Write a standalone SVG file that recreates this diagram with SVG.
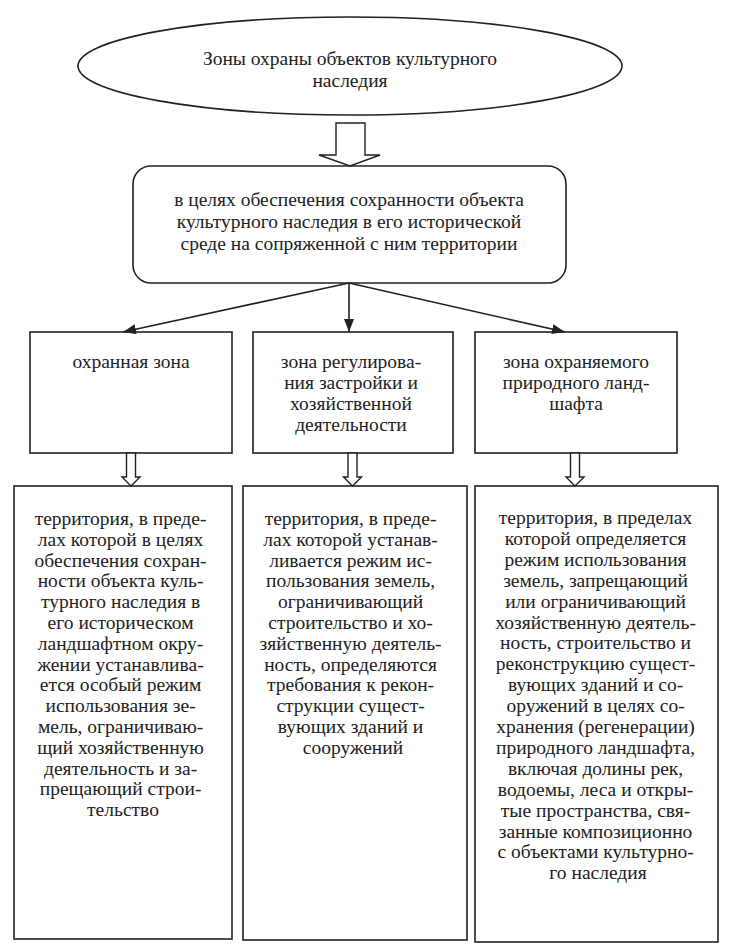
<svg xmlns="http://www.w3.org/2000/svg" width="732" height="951" viewBox="0 0 732 951">
<style>
.s{fill:#fff;stroke:#222;stroke-width:1.6}
.t{font-family:"Liberation Serif","Times New Roman",serif;font-size:19.5px;fill:#222;text-anchor:middle}
.c{stroke:#222;stroke-width:1.6;fill:none}
.h{fill:#fff;stroke:#222;stroke-width:1.4}
</style>
<defs>
<marker id="ah" markerUnits="userSpaceOnUse" markerWidth="14" markerHeight="12" refX="13" refY="5" orient="auto">
<path d="M0,0 L13,5 L0,10 Z" fill="#222"/>
</marker>
</defs>
<rect width="732" height="951" fill="#fff"/>
<g id="title">
<ellipse class="s" cx="350" cy="66" rx="272" ry="49"/>
<text class="t" x="350" y="65">Зоны охраны объектов культурного</text>
<text class="t" x="350" y="87">наследия</text>
</g>
<g id="purpose">
<rect class="s" x="133" y="166" width="433" height="117" rx="18"/>
<text class="t" x="349" y="206">в целях обеспечения сохранности объекта</text>
<text class="t" x="349" y="228">культурного наследия в его исторической</text>
<text class="t" x="349" y="250">среде на сопряженной с ним территории</text>
</g>
<g id="zone1">
<rect class="s" x="30" y="332" width="202" height="121"/>
<text class="t" x="131" y="368">охранная зона</text>
</g>
<g id="zone2">
<rect class="s" x="253" y="332" width="200" height="121"/>
<text class="t" x="351" y="368">зона регулирова-</text>
<text class="t" x="351" y="389">ния застройки и</text>
<text class="t" x="351" y="410">хозяйственной</text>
<text class="t" x="351" y="431">деятельности</text>
</g>
<g id="zone3">
<rect class="s" x="475" y="332" width="202" height="121"/>
<text class="t" x="576" y="368">зона охраняемого</text>
<text class="t" x="576" y="389">природного ланд-</text>
<text class="t" x="576" y="410">шафта</text>
</g>
<g id="desc1">
<rect class="s" x="14" y="486" width="218" height="453"/>
<text class="t" x="123" y="525">
<tspan x="123" dy="0">территория, в преде-</tspan>
<tspan x="123" dy="20.8">лах которой в целях</tspan>
<tspan x="123" dy="20.8">обеспечения сохран-</tspan>
<tspan x="123" dy="20.8">ности объекта куль-</tspan>
<tspan x="123" dy="20.8">турного наследия в</tspan>
<tspan x="123" dy="20.8">его историческом</tspan>
<tspan x="123" dy="20.8">ландшафтном окру-</tspan>
<tspan x="123" dy="20.8">жении устанавлива-</tspan>
<tspan x="123" dy="20.8">ется особый режим</tspan>
<tspan x="123" dy="20.8">использования зе-</tspan>
<tspan x="123" dy="20.8">мель, ограничиваю-</tspan>
<tspan x="123" dy="20.8">щий хозяйственную</tspan>
<tspan x="123" dy="20.8">деятельность и за-</tspan>
<tspan x="123" dy="20.8">прещающий строи-</tspan>
<tspan x="123" dy="20.8">тельство</tspan>
</text>
</g>
<g id="desc2">
<rect class="s" x="243" y="486" width="224" height="454"/>
<text class="t" x="353" y="525">
<tspan x="353" dy="0">территория, в преде-</tspan>
<tspan x="353" dy="20.8">лах которой устанав-</tspan>
<tspan x="353" dy="20.8">ливается режим ис-</tspan>
<tspan x="353" dy="20.8">пользования земель,</tspan>
<tspan x="353" dy="20.8">ограничивающий</tspan>
<tspan x="353" dy="20.8">строительство и хо-</tspan>
<tspan x="353" dy="20.8">зяйственную деятель-</tspan>
<tspan x="353" dy="20.8">ность, определяются</tspan>
<tspan x="353" dy="20.8">требования к рекон-</tspan>
<tspan x="353" dy="20.8">струкции сущест-</tspan>
<tspan x="353" dy="20.8">вующих зданий и</tspan>
<tspan x="353" dy="20.8">сооружений</tspan>
</text>
</g>
<g id="desc3">
<rect class="s" x="475" y="486" width="243" height="456"/>
<text class="t" x="598" y="524">
<tspan x="598" dy="0">территория, в пределах</tspan>
<tspan x="598" dy="20.9">которой определяется</tspan>
<tspan x="598" dy="20.9">режим использования</tspan>
<tspan x="598" dy="20.9">земель, запрещающий</tspan>
<tspan x="598" dy="20.9">или ограничивающий</tspan>
<tspan x="598" dy="20.9">хозяйственную деятель-</tspan>
<tspan x="598" dy="20.9">ность, строительство и</tspan>
<tspan x="598" dy="20.9">реконструкцию сущест-</tspan>
<tspan x="598" dy="20.9">вующих зданий и со-</tspan>
<tspan x="598" dy="20.9">оружений в целях со-</tspan>
<tspan x="598" dy="20.9">хранения (регенерации)</tspan>
<tspan x="598" dy="20.9">природного ландшафта,</tspan>
<tspan x="598" dy="20.9">включая долины рек,</tspan>
<tspan x="598" dy="20.9">водоемы, леса и откры-</tspan>
<tspan x="598" dy="20.9">тые пространства, свя-</tspan>
<tspan x="598" dy="20.9">занные композиционно</tspan>
<tspan x="598" dy="20.9">с объектами культурно-</tspan>
<tspan x="598" dy="20.9">го наследия</tspan>
</text>
</g>
<g id="connectors">
<polygon class="h" points="336,123 365,123 365,155 380,155 350,166 319,155 336,155"/>
<line class="c" x1="349" y1="283" x2="123" y2="332" marker-end="url(#ah)"/>
<line class="c" x1="349" y1="283" x2="349" y2="332" marker-end="url(#ah)"/>
<line class="c" x1="349" y1="283" x2="565" y2="332" marker-end="url(#ah)"/>
<polygon class="h" points="126.5,453 135.5,453 135.5,477 140,477 131,486 122,477 126.5,477"/>
<polygon class="h" points="348,453 357,453 357,477 361.5,477 352.5,486 343.5,477 348,477"/>
<polygon class="h" points="570.5,453 579.5,453 579.5,477 584,477 575,486 566,477 570.5,477"/>
</g>
</svg>
